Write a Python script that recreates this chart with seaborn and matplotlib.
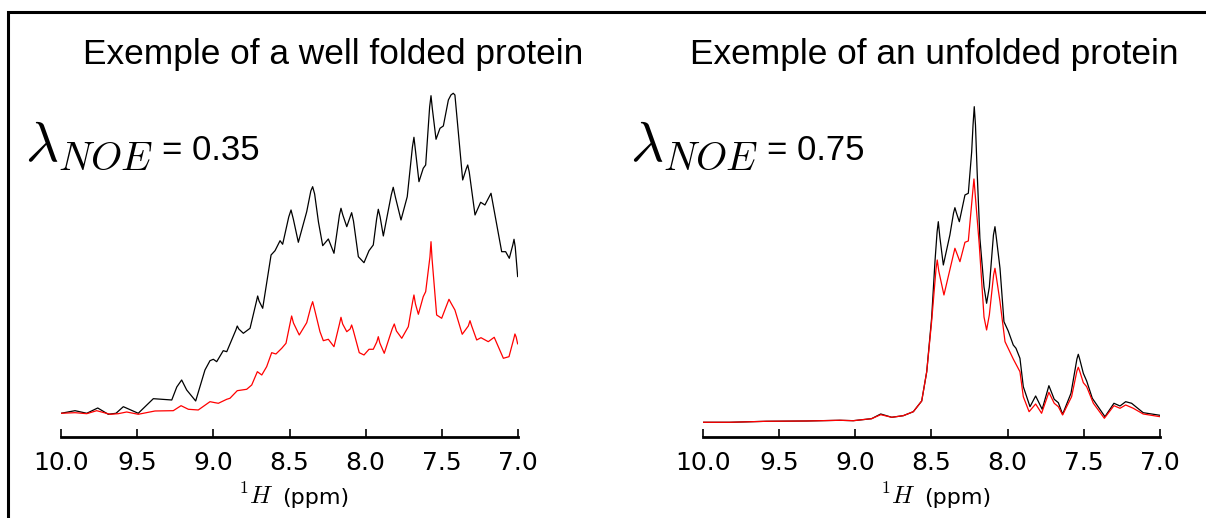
import matplotlib
matplotlib.use("Agg")
import matplotlib.pyplot as plt
import seaborn as sns
import pandas as pd
from matplotlib.patches import Rectangle

# ---- spectra (1H chemical shift in ppm, intensity in arbitrary units) ----
folded_ppm = [10.000, 9.908, 9.831, 9.759, 9.690, 9.639, 9.591, 9.493, 9.394, 9.273,
              9.240, 9.208, 9.175, 9.116, 9.055, 9.022, 9.000, 8.978, 8.935, 8.912,
              8.852, 8.843, 8.833, 8.803, 8.759, 8.718, 8.709, 8.700, 8.676, 8.621,
              8.595, 8.562, 8.545, 8.505, 8.490, 8.475, 8.442, 8.387, 8.360, 8.348,
              8.335, 8.310, 8.282, 8.245, 8.208, 8.172, 8.162, 8.150, 8.124, 8.102,
              8.092, 8.080, 8.048, 8.011, 7.978, 7.950, 7.928, 7.917, 7.905, 7.884,
              7.832, 7.819, 7.805, 7.768, 7.727, 7.693, 7.683, 7.672, 7.650, 7.622,
              7.606, 7.580, 7.571, 7.562, 7.538, 7.512, 7.490, 7.457, 7.440, 7.425,
              7.414, 7.363, 7.340, 7.330, 7.320, 7.282, 7.245, 7.217, 7.177, 7.107,
              7.081, 7.057, 7.034, 7.026, 7.018, 7.002]
folded_ref = [23.7, 26.3, 23.7, 29.0, 22.7, 23.7, 30.3, 23.7, 38.3, 37.0,
              50.0, 57.0, 47.0, 36.0, 67.0, 76.3, 77.7, 75.3, 86.3, 85.3,
              107.0, 111.0, 108.0, 103.7, 108.7, 135.0, 141.0, 136.0, 128.7, 182.0,
              186.3, 196.3, 192.7, 220.0, 227.0, 218.0, 194.7, 225.3, 246.0, 250.3,
              243.0, 215.0, 191.3, 198.0, 183.7, 222.0, 228.7, 222.0, 210.3, 220.0,
              224.3, 216.0, 180.3, 174.3, 186.3, 192.0, 218.0, 227.7, 220.0, 201.0,
              242.0, 249.7, 240.0, 217.0, 240.3, 290.0, 299.7, 285.0, 255.3, 268.7,
              272.0, 330.0, 341.3, 328.0, 297.7, 308.7, 311.0, 337.0, 342.0, 343.7,
              342.0, 257.0, 268.0, 272.0, 265.0, 222.0, 234.7, 232.0, 243.7, 185.3,
              185.3, 178.7, 192.0, 197.7, 190.0, 160.3]

folded_noe_ppm = [10.000, 9.908, 9.831, 9.766, 9.678, 9.624, 9.569, 9.493, 9.383, 9.263,
                  9.212, 9.164, 9.099, 9.022, 8.989, 8.967, 8.912, 8.891, 8.843, 8.781,
                  8.748, 8.711, 8.682, 8.650, 8.617, 8.589, 8.551, 8.523, 8.497, 8.486,
                  8.474, 8.436, 8.387, 8.360, 8.348, 8.336, 8.300, 8.278, 8.245, 8.208,
                  8.172, 8.162, 8.151, 8.124, 8.102, 8.092, 8.082, 8.042, 8.011, 7.978,
                  7.950, 7.927, 7.917, 7.907, 7.878, 7.826, 7.812, 7.798, 7.763, 7.720,
                  7.692, 7.683, 7.673, 7.654, 7.622, 7.606, 7.578, 7.571, 7.564, 7.534,
                  7.501, 7.465, 7.453, 7.440, 7.414, 7.366, 7.326, 7.315, 7.304, 7.271,
                  7.243, 7.195, 7.156, 7.096, 7.059, 7.028, 7.020, 7.012, 7.002]
folded_noe = [23.7, 24.3, 23.3, 26.3, 22.7, 23.3, 25.0, 22.7, 26.0, 26.3,
              31.3, 27.7, 27.0, 35.3, 34.3, 33.7, 37.7, 38.7, 46.3, 47.7,
              52.0, 65.3, 62.0, 70.3, 84.3, 83.0, 88.7, 93.7, 113.0, 121.0,
              114.0, 102.0, 114.3, 130.0, 135.3, 128.0, 105.3, 96.3, 97.7, 90.3,
              113.0, 119.7, 113.0, 105.3, 108.0, 112.0, 107.0, 84.3, 82.0, 87.7,
              87.7, 95.0, 100.3, 94.0, 83.7, 108.0, 113.0, 106.0, 98.7, 110.3,
              135.0, 142.0, 133.0, 122.7, 140.3, 145.3, 180.0, 195.3, 178.0, 122.0,
              118.7, 133.0, 137.7, 134.0, 127.0, 102.7, 111.0, 116.3, 111.0, 97.0,
              99.3, 95.3, 99.7, 78.7, 80.3, 98.0, 103.0, 100.0, 93.0]

unfolded_ppm = [10.000, 9.823, 9.582, 9.319, 9.101, 9.013, 8.893, 8.833, 8.761, 8.685,
                8.619, 8.564, 8.531, 8.499, 8.477, 8.463, 8.455, 8.445, 8.422, 8.379,
                8.355, 8.346, 8.336, 8.317, 8.280, 8.258, 8.236, 8.227, 8.219, 8.211,
                8.200, 8.182, 8.155, 8.138, 8.120, 8.093, 8.083, 8.073, 8.050, 8.024,
                7.996, 7.963, 7.945, 7.919, 7.897, 7.853, 7.816, 7.773, 7.729, 7.694,
                7.667, 7.639, 7.584, 7.545, 7.536, 7.527, 7.503, 7.481, 7.444, 7.361,
                7.302, 7.262, 7.225, 7.186, 7.110, 7.000]
unfolded_ref = [14.7, 14.7, 15.7, 16.0, 16.7, 16.3, 18.3, 23.0, 19.7, 21.3,
                25.3, 36.0, 65.3, 118.7, 175.3, 205.0, 215.3, 200.0, 172.0, 202.0,
                224.0, 229.3, 224.0, 215.3, 242.0, 243.7, 285.0, 312.0, 330.3, 312.0,
                265.0, 198.7, 150.0, 133.7, 150.0, 202.0, 210.3, 198.0, 168.7, 115.3,
                106.0, 92.0, 88.7, 78.7, 50.3, 30.3, 41.0, 27.7, 51.3, 37.7,
                34.3, 22.7, 43.7, 78.0, 82.7, 78.0, 63.7, 56.0, 38.7, 20.3,
                33.7, 31.0, 35.3, 33.7, 24.3, 21.7]

unfolded_noe_ppm = [10.000, 9.823, 9.582, 9.319, 9.101, 9.013, 8.893, 8.833, 8.761, 8.685,
                    8.619, 8.564, 8.531, 8.499, 8.470, 8.462, 8.452, 8.418, 8.346, 8.313,
                    8.280, 8.258, 8.229, 8.221, 8.213, 8.186, 8.155, 8.138, 8.120, 8.092,
                    8.083, 8.074, 8.050, 8.017, 7.963, 7.919, 7.897, 7.859, 7.816, 7.777,
                    7.729, 7.694, 7.667, 7.639, 7.580, 7.545, 7.536, 7.527, 7.503, 7.481,
                    7.437, 7.365, 7.302, 7.262, 7.225, 7.175, 7.110, 7.000]
unfolded_noe = [14.7, 14.7, 15.7, 16.0, 16.7, 16.3, 18.3, 22.3, 19.7, 21.3,
                25.3, 36.0, 65.3, 115.3, 168.0, 177.0, 166.0, 142.0, 188.7, 175.3,
                194.7, 196.0, 245.0, 258.0, 243.0, 192.0, 120.0, 107.0, 122.0, 162.0,
                168.7, 160.0, 135.3, 95.3, 78.0, 65.3, 40.3, 25.3, 33.0, 23.7,
                44.7, 33.7, 30.3, 22.0, 40.3, 66.0, 69.7, 66.0, 54.3, 50.3,
                33.7, 18.7, 31.3, 28.7, 32.0, 28.7, 23.0, 20.3]

titles = ["Exemple of a well folded protein", "Exemple of an unfolded protein"]
lambda_values = ["0.35", "0.75"]
xticks = [10.0, 9.5, 9.0, 8.5, 8.0, 7.5, 7.0]

sns.set_style("white")
plt.rcParams["font.family"] = ["DejaVu Sans"]
plt.rcParams["mathtext.fontset"] = "cm"
plt.rcParams["text.color"] = "black"
plt.rcParams["xtick.color"] = "black"

fig = plt.figure(figsize=(12.06, 5.18), dpi=100)
ax_left = fig.add_axes([0.0506, 0.1564, 0.3789, 0.6699])
ax_right = fig.add_axes([0.5829, 0.1564, 0.3789, 0.6699])

panels = [
    (ax_left, folded_ppm, folded_ref, folded_noe_ppm, folded_noe),
    (ax_right, unfolded_ppm, unfolded_ref, unfolded_noe_ppm, unfolded_noe),
]

for ax, p_ref, i_ref, p_noe, i_noe in panels:
    df_ref = pd.DataFrame({"ppm": p_ref, "intensity": i_ref})
    df_noe = pd.DataFrame({"ppm": p_noe, "intensity": i_noe})
    sns.lineplot(data=df_ref, x="ppm", y="intensity", ax=ax, color="black",
                 lw=0.9, sort=True, estimator=None)
    sns.lineplot(data=df_noe, x="ppm", y="intensity", ax=ax, color="red",
                 lw=0.9, sort=True, estimator=None)
    ax.set_xlim(10.0, 7.0)
    ax.set_ylim(0, 347)
    for side in ("top", "left", "right"):
        ax.spines[side].set_visible(False)
    ax.spines["bottom"].set_linewidth(2.0)
    ax.spines["bottom"].set_color("black")
    ax.set_yticks([])
    ax.set_xticks(xticks)
    ax.set_xticklabels([f"{t:.1f}" for t in xticks])
    ax.tick_params(axis="x", direction="in", length=6, width=1.2, labelsize=18,
                   pad=10, bottom=True, colors="black")
    ax.set_ylabel("")
    ax.set_xlabel("")
    ax.set_facecolor("white")
    # axis label: nucleus in math italics, unit in the regular font
    ax.text(0.388, -0.193, r"$^1H$", fontsize=18, ha="left", va="baseline",
            transform=ax.transAxes)
    ax.text(0.484, -0.193, "(ppm)", fontsize=16, ha="left", va="baseline",
            transform=ax.transAxes)

# panel headings and NOE ratio labels
title_x = [83 / 1206, 690 / 1206]
lam_x = [25 / 1206, 630 / 1206]
for tx, lx, title, val in zip(title_x, lam_x, titles, lambda_values):
    fig.text(tx, 0.876, title, fontsize=25.4, family="Liberation Sans",
             ha="left", va="baseline")
    fig.text(lx, 0.691, r"$\lambda_{NOE}$", fontsize=41, ha="left", va="baseline")
    fig.text(lx + 137 / 1206, 0.691, "= " + val, fontsize=25,
             family="Liberation Sans", ha="left", va="baseline")

# surrounding frame
fig.patches.append(Rectangle((8 / 1206, -0.2), 1.2, 1.2 - 12 / 518,
                             transform=fig.transFigure, fill=False,
                             edgecolor="black", linewidth=2.2, zorder=10))

fig.savefig("out.png", dpi=100, facecolor="white")
